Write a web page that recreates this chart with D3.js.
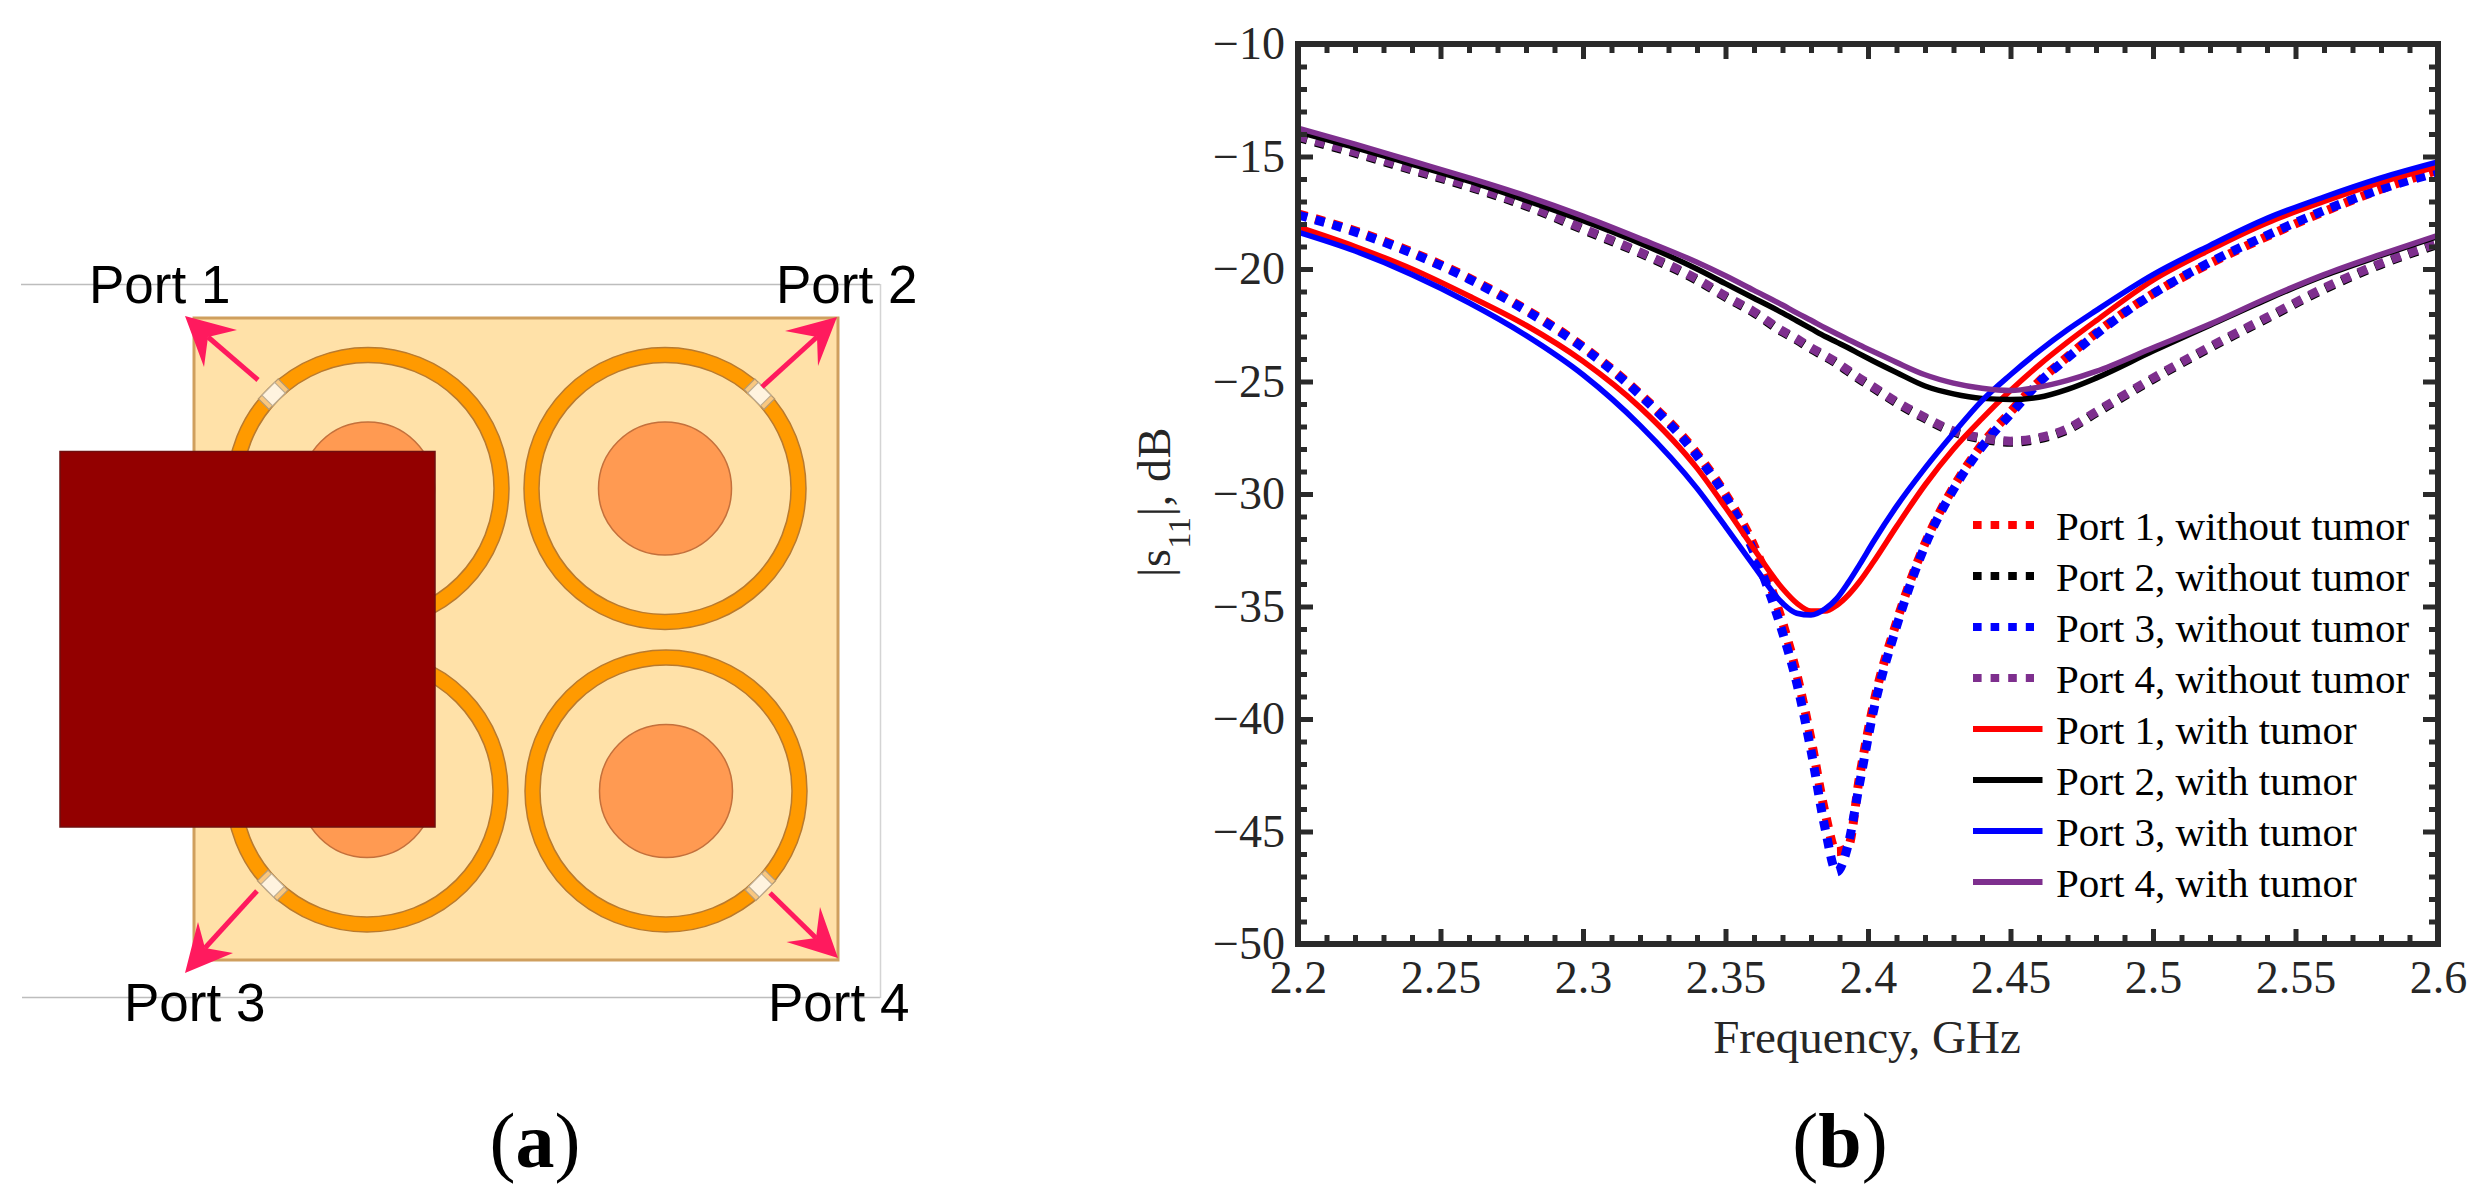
<!DOCTYPE html>
<html>
<head>
<meta charset="utf-8">
<script src="https://cdnjs.cloudflare.com/ajax/libs/d3/7.8.5/d3.min.js"></script>
<style>
html,body{margin:0;padding:0;background:#fff;overflow:hidden}
svg{display:block}
text{font-family:"Liberation Serif",serif}
</style>
</head>
<body>
<svg id="c" width="2479" height="1199" xmlns="http://www.w3.org/2000/svg"></svg>
<script>
// ---------- chart data (panel b) ----------
const freq = [2.2,2.22,2.24,2.26,2.28,2.3,2.32,2.34,2.35,2.36,2.37,2.375,2.38,2.385,2.389,2.393,2.397,2.402,2.41,2.42,2.43,2.44,2.45,2.46,2.47,2.48,2.5,2.52,2.54,2.56,2.58,2.6];
const port1Without = [-17.55,-18.3,-19.25,-20.4,-21.8,-23.45,-25.55,-28.2,-30.0,-32.3,-35.7,-38.0,-40.9,-44.2,-45.9,-45.7,-42.6,-39.3,-35.7,-32.2,-29.7,-27.8,-26.35,-25.0,-23.9,-22.85,-21.1,-19.75,-18.55,-17.45,-16.45,-15.6];
const port2Without = [-14.15,-14.85,-15.6,-16.35,-17.2,-18.25,-19.3,-20.5,-21.25,-21.95,-22.8,-23.15,-23.55,-23.9,-24.2,-24.55,-24.9,-25.3,-25.95,-26.65,-27.25,-27.55,-27.7,-27.55,-27.15,-26.4,-24.9,-23.5,-22.2,-20.9,-19.8,-18.9];
const port3Without = [-17.6,-18.35,-19.3,-20.45,-21.85,-23.5,-25.6,-28.3,-30.1,-32.6,-36.15,-38.4,-41.4,-44.9,-46.8,-45.6,-42.9,-39.6,-35.9,-32.3,-29.8,-27.9,-26.45,-25.05,-23.95,-22.9,-21.1,-19.7,-18.5,-17.4,-16.45,-15.7];
const port4Without = [-14.1,-14.8,-15.55,-16.3,-17.15,-18.2,-19.25,-20.45,-21.2,-21.9,-22.75,-23.1,-23.5,-23.85,-24.15,-24.5,-24.85,-25.25,-25.9,-26.6,-27.2,-27.5,-27.65,-27.5,-27.1,-26.35,-24.85,-23.45,-22.15,-20.85,-19.75,-18.85];
const port1With = [-18.13,-19.0,-20.0,-21.2,-22.5,-24.1,-26.15,-28.85,-30.6,-32.45,-34.2,-34.85,-35.2,-35.2,-34.95,-34.5,-33.9,-33.0,-31.45,-29.6,-28.0,-26.65,-25.4,-24.27,-23.25,-22.3,-20.5,-19.15,-17.95,-17.0,-16.15,-15.45];
const port2With = [-13.9,-14.6,-15.35,-16.1,-16.95,-17.85,-18.85,-20.0,-20.65,-21.3,-21.95,-22.3,-22.65,-23.0,-23.25,-23.5,-23.77,-24.1,-24.6,-25.2,-25.55,-25.75,-25.8,-25.7,-25.35,-24.85,-23.65,-22.5,-21.35,-20.3,-19.4,-18.55];
const port3With = [-18.36,-19.2,-20.25,-21.5,-22.95,-24.7,-26.95,-29.75,-31.45,-33.2,-34.85,-35.3,-35.38,-35.1,-34.65,-33.95,-33.15,-32.1,-30.55,-28.85,-27.3,-25.85,-24.7,-23.65,-22.7,-21.85,-20.25,-18.95,-17.75,-16.8,-15.95,-15.24];
const port4With = [-13.74,-14.45,-15.2,-15.95,-16.75,-17.65,-18.65,-19.7,-20.3,-20.95,-21.6,-21.95,-22.28,-22.62,-22.88,-23.13,-23.38,-23.68,-24.15,-24.7,-25.07,-25.3,-25.4,-25.25,-24.95,-24.55,-23.5,-22.45,-21.3,-20.25,-19.35,-18.5];

const seriesNames = ["Port 1, without tumor","Port 2, without tumor","Port 3, without tumor","Port 4, without tumor","Port 1, with tumor","Port 2, with tumor","Port 3, with tumor","Port 4, with tumor"];
const seriesValues = [port1Without,port2Without,port3Without,port4Without,port1With,port2With,port3With,port4With];
const seriesColors = ["#ff0000","#000000","#0000ff","#7e2f8e","#ff0000","#000000","#0000ff","#7e2f8e"];
const xTickValues = [2.2,2.25,2.3,2.35,2.4,2.45,2.5,2.55,2.6];
const xTickLabels = ["2.2","2.25","2.3","2.35","2.4","2.45","2.5","2.55","2.6"];
const yTickValues = [-10,-15,-20,-25,-30,-35,-40,-45,-50];
const yTickLabels = ["\u221210","\u221215","\u221220","\u221225","\u221230","\u221235","\u221240","\u221245","\u221250"];
const xMinor = [2.21,2.22,2.23,2.24,2.26,2.27,2.28,2.29,2.31,2.32,2.33,2.34,2.36,2.37,2.38,2.39,2.41,2.42,2.43,2.44,2.46,2.47,2.48,2.49,2.51,2.52,2.53,2.54,2.56,2.57,2.58,2.59];
const yMinor = [-11,-12,-13,-14,-16,-17,-18,-19,-21,-22,-23,-24,-26,-27,-28,-29,-31,-32,-33,-34,-36,-37,-38,-39,-41,-42,-43,-44,-46,-47,-48,-49];

const svg = d3.select("#c");
svg.append("rect").attr("width",2479).attr("height",1199).attr("fill","#fff");

// ---------- panel (a): antenna schematic ----------
const A = svg.append("g").attr("id","panel-a");
const portNames = ["Port 1","Port 2","Port 3","Port 4"];
const guide = "#bdbdbd";
A.append("line").attr("x1",21).attr("x2",880).attr("y1",284.5).attr("y2",284.5).attr("stroke",guide).attr("stroke-width",1.5);
A.append("line").attr("x1",22).attr("x2",880).attr("y1",997.5).attr("y2",997.5).attr("stroke",guide).attr("stroke-width",1.5);
A.append("line").attr("x1",880.5).attr("x2",880.5).attr("y1",284).attr("y2",998).attr("stroke","#d4d4d4").attr("stroke-width",1.5);
A.append("rect").attr("x",194).attr("y",318).attr("width",644).attr("height",642)
  .attr("fill","#ffe1a8").attr("stroke","#cf9f5e").attr("stroke-width",3);

const rings = [{cx:368,cy:488.5,a:-135},{cx:665,cy:488.5,a:-45},{cx:367,cy:791,a:135},{cx:666,cy:791,a:45}];
rings.forEach(r=>{
  A.append("circle").attr("cx",r.cx).attr("cy",r.cy).attr("r",141).attr("fill","#ff9a00").attr("stroke","#b97a2e").attr("stroke-width",1.5);
  A.append("circle").attr("cx",r.cx).attr("cy",r.cy).attr("r",126).attr("fill","#ffe1a8").attr("stroke","#b97a2e").attr("stroke-width",1.5);
  A.append("circle").attr("cx",r.cx).attr("cy",r.cy).attr("r",66.5).attr("fill","#ff9a52").attr("stroke","#c4703c").attr("stroke-width",1.5);
  const g = A.append("g").attr("transform",`translate(${r.cx},${r.cy}) rotate(${r.a}) translate(133.5,0)`);
  g.append("rect").attr("x",-7.5).attr("y",-14).attr("width",15).attr("height",28).attr("fill","#f9c77f").attr("stroke","#b59a74").attr("stroke-width",1.2);
  g.append("rect").attr("x",-7.5).attr("y",-9).attr("width",15).attr("height",18).attr("fill","#fff3df").attr("stroke","#bfae93").attr("stroke-width",1.2);
});

// arrows: tail, tip, barb, notch, barb
const arrows = [
  [[258,380],[185,316],[237,330],[208,337],[204,367]],
  [[762,387],[837,317],[785,331],[817,337],[818,366]],
  [[257,891],[185,973],[198,922],[205,948],[233,953]],
  [[770,893],[838,958],[820,907],[816,938],[786.5,942]]
];
const arrowColor = "#ff1a5e";
arrows.forEach(a=>{
  A.append("line").attr("x1",a[0][0]).attr("y1",a[0][1]).attr("x2",a[3][0]).attr("y2",a[3][1]).attr("stroke",arrowColor).attr("stroke-width",5);
  A.append("path").attr("d","M"+[a[1],a[2],a[3],a[4]].map(p=>p.join(",")).join("L")+"Z").attr("fill",arrowColor);
});

A.append("rect").attr("x",60).attr("y",451.5).attr("width",375).attr("height",375.5)
  .attr("fill","#930000").attr("stroke","#6f0f0f").attr("stroke-width",1.5);

const portPos = [[89,303],[776,303],[124,1021],[768,1021]];
portNames.forEach((n,i)=>{
  A.append("text").attr("x",portPos[i][0]).attr("y",portPos[i][1]).text(n)
    .style("font-family",'"Liberation Sans",sans-serif').style("font-size","53px").attr("fill","#000");
});

function panelLabel(letter,cx){
  const t = svg.append("text").attr("x",cx).attr("y",1167).attr("text-anchor","middle").style("font-size","78px").attr("fill","#000");
  t.append("tspan").text("(");
  t.append("tspan").text(letter).style("font-weight","bold");
  t.append("tspan").text(")");
}
panelLabel("a",535);
panelLabel("b",1840);

// ---------- panel (b): chart ----------
const x = d3.scaleLinear().domain([2.2,2.6]).range([1298,2438]);
const y = d3.scaleLinear().domain([-10,-50]).range([44,944]);
const B = svg.append("g").attr("id","panel-b");

const line = d3.line().x((d,i)=>x(freq[i])).y(d=>y(d)).curve(d3.curveMonotoneX);
seriesValues.forEach((vals,i)=>{
  const dashed = i<4;
  B.append("path").attr("d",line(vals)).attr("fill","none")
    .attr("stroke",seriesColors[i]).attr("stroke-width",dashed?9:5.5)
    .attr("stroke-dasharray",dashed?"9.5 8.5":null);
});

const axColor = "#2a2a2a";
function styleAxis(g){
  g.selectAll(".domain").remove();
  g.selectAll("line").attr("stroke",axColor).attr("stroke-width",5);
  g.selectAll("text").style("font-family",'"Liberation Serif",serif').style("font-size","46px").attr("fill","#262626");
}
const fmtX = d=>xTickLabels[xTickValues.indexOf(d)];
const fmtY = d=>yTickLabels[yTickValues.indexOf(d)];
B.append("g").attr("transform","translate(0,944)").call(d3.axisBottom(x).tickValues(xTickValues).tickSize(-15).tickPadding(16).tickFormat(fmtX)).call(styleAxis);
B.append("g").attr("transform","translate(1298,0)").call(d3.axisLeft(y).tickValues(yTickValues).tickSize(-15).tickPadding(13).tickFormat(fmtY)).call(styleAxis);
B.append("g").attr("transform","translate(0,44)").call(d3.axisTop(x).tickValues(xTickValues).tickSize(-15).tickFormat("")).call(styleAxis);
B.append("g").attr("transform","translate(2438,0)").call(d3.axisRight(y).tickValues(yTickValues).tickSize(-15).tickFormat("")).call(styleAxis);
B.append("g").attr("transform","translate(0,944)").call(d3.axisBottom(x).tickValues(xMinor).tickSize(-9).tickFormat("")).call(styleAxis);
B.append("g").attr("transform","translate(0,44)").call(d3.axisTop(x).tickValues(xMinor).tickSize(-9).tickFormat("")).call(styleAxis);
B.append("g").attr("transform","translate(1298,0)").call(d3.axisLeft(y).tickValues(yMinor).tickSize(-9).tickFormat("")).call(styleAxis);
B.append("g").attr("transform","translate(2438,0)").call(d3.axisRight(y).tickValues(yMinor).tickSize(-9).tickFormat("")).call(styleAxis);
B.append("rect").attr("x",1298).attr("y",44).attr("width",1140).attr("height",900).attr("fill","none").attr("stroke",axColor).attr("stroke-width",6);

B.append("text").attr("x",1867).attr("y",1053).attr("text-anchor","middle").style("font-size","47px").attr("fill","#262626").text("Frequency, GHz");

const yl = B.append("text").attr("transform","translate(1170,577) rotate(-90)").style("font-size","46px").style("letter-spacing","0.7px").attr("fill","#262626");
yl.append("tspan").text("|s");
yl.append("tspan").attr("dy",20).style("font-size","32px").text("11");
yl.append("tspan").attr("dy",-20).text("|, dB");

// legend
seriesNames.forEach((n,i)=>{
  const base = 540+i*51;
  const dashed = i<4;
  B.append("line").attr("x1",1973).attr("x2",dashed?2034:2042.5).attr("y1",base-15).attr("y2",base-15)
    .attr("stroke",seriesColors[i]).attr("stroke-width",dashed?8:6)
    .attr("stroke-dasharray",dashed?"8.6 9":null);
  B.append("text").attr("x",2056).attr("y",base).style("font-size","41px").attr("fill","#000").text(n);
});
</script>
</body>
</html>
